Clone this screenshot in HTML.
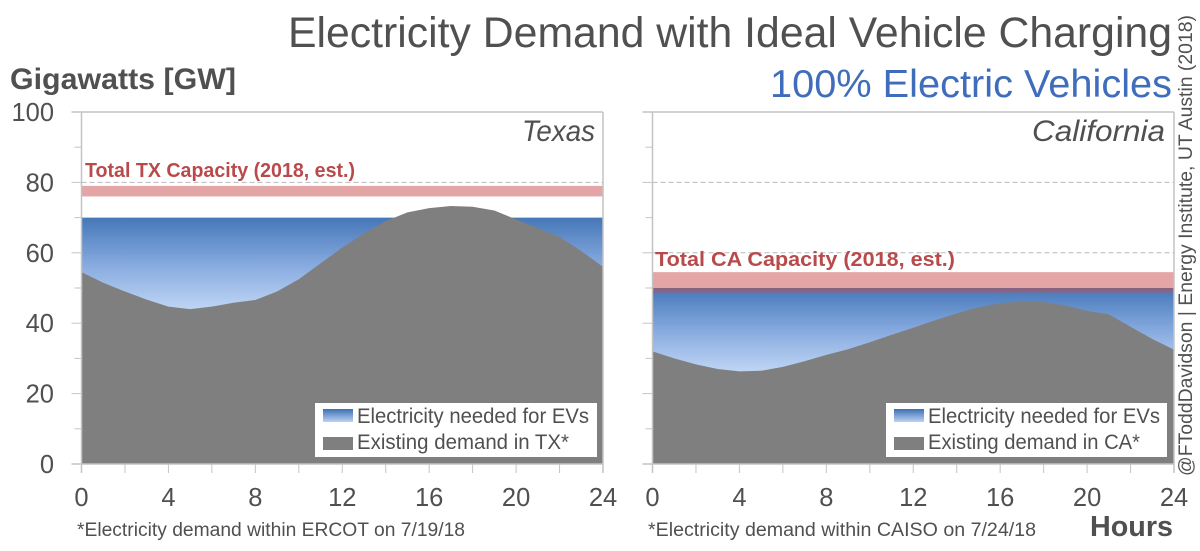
<!DOCTYPE html>
<html lang="en">
<head>
<meta charset="utf-8">
<title>Electricity Demand with Ideal Vehicle Charging</title>
<style>
html,body{margin:0;padding:0;background:#fff;width:1200px;height:551px;overflow:hidden}
svg{display:block;font-family:"Liberation Sans",sans-serif}
</style>
</head>
<body>
<svg id="chart" xmlns="http://www.w3.org/2000/svg" width="1200" height="551" viewBox="0 0 1200 551">
  <defs>
    <linearGradient id="evTX" gradientUnits="userSpaceOnUse" x1="0" x2="0" y1="218" y2="310">
      <stop offset="0" stop-color="#3c70b4"/><stop offset="0.5" stop-color="#7fa5dd"/><stop offset="1" stop-color="#bcd3f4"/>
    </linearGradient>
    <linearGradient id="evCA" gradientUnits="userSpaceOnUse" x1="0" x2="0" y1="288" y2="372">
      <stop offset="0" stop-color="#3c70b4"/><stop offset="0.5" stop-color="#7fa5dd"/><stop offset="1" stop-color="#bcd3f4"/>
    </linearGradient>
    <linearGradient id="swatchGrad" x1="0" x2="0" y1="0" y2="1">
      <stop offset="0" stop-color="#3c70b4"/><stop offset="1" stop-color="#bcd3f4"/>
    </linearGradient>
  </defs>
  <g id="marks"></g>

  <text x="288" y="47" font-size="43" fill="#505050" textLength="884" lengthAdjust="spacingAndGlyphs">Electricity Demand with Ideal Vehicle Charging</text>
  <text x="770" y="97" font-size="39" fill="#3f6dbb" textLength="402" lengthAdjust="spacingAndGlyphs">100% Electric Vehicles</text>
  <text x="10" y="89" font-size="30" font-weight="700" fill="#505050" textLength="226" lengthAdjust="spacingAndGlyphs">Gigawatts [GW]</text>
  <text x="1090" y="536" font-size="29" font-weight="700" fill="#505050" textLength="83" lengthAdjust="spacingAndGlyphs">Hours</text>
  <text transform="translate(1192 476) rotate(-90)" font-size="19" fill="#505050" textLength="461" lengthAdjust="spacingAndGlyphs">@FToddDavidson | Energy Institute, UT Austin (2018)</text>

  <text x="522" y="141" font-size="30" font-style="italic" fill="#505050" textLength="73" lengthAdjust="spacingAndGlyphs">Texas</text>
  <text x="1032" y="141" font-size="30" font-style="italic" fill="#505050" textLength="133" lengthAdjust="spacingAndGlyphs">California</text>
  <text x="85" y="177" font-size="20" font-weight="700" fill="#b94a4c" textLength="270" lengthAdjust="spacingAndGlyphs">Total TX Capacity (2018, est.)</text>
  <text x="655" y="266" font-size="20" font-weight="700" fill="#b94a4c" textLength="300" lengthAdjust="spacingAndGlyphs">Total CA Capacity (2018, est.)</text>
  <text x="77" y="536" font-size="19" fill="#505050" textLength="388" lengthAdjust="spacingAndGlyphs">*Electricity demand within ERCOT on 7/19/18</text>
  <text x="648" y="536" font-size="19" fill="#505050" textLength="388" lengthAdjust="spacingAndGlyphs">*Electricity demand within CAISO on 7/24/18</text>

  <g>
    <rect x="315" y="403" width="282" height="54" fill="#fff"/>
    <rect x="323" y="409" width="30" height="13" fill="url(#swatchGrad)"/>
    <text x="357" y="423" font-size="21" fill="#505050" textLength="232" lengthAdjust="spacingAndGlyphs">Electricity needed for EVs</text>
    <rect x="323" y="437" width="30" height="13" fill="#7f7f7f"/>
    <text x="357" y="449" font-size="21" fill="#505050" textLength="212" lengthAdjust="spacingAndGlyphs">Existing demand in TX*</text>
  </g>
  <g>
    <rect x="886" y="403" width="281" height="54" fill="#fff"/>
    <rect x="894" y="409" width="30" height="13" fill="url(#swatchGrad)"/>
    <text x="928" y="423" font-size="21" fill="#505050" textLength="232" lengthAdjust="spacingAndGlyphs">Electricity needed for EVs</text>
    <rect x="894" y="437" width="30" height="13" fill="#7f7f7f"/>
    <text x="928" y="449" font-size="21" fill="#505050" textLength="212" lengthAdjust="spacingAndGlyphs">Existing demand in CA*</text>
  </g>
</svg>
<script>
const hours = [0,1,2,3,4,5,6,7,8,9,10,11,12,13,14,15,16,17,18,19,20,21,22,23,24];
const texasDemand = [54.5,51.5,49,46.7,44.7,44,44.7,45.8,46.6,49,52.5,57,61.5,65.5,69,71.5,72.7,73.3,73.1,72,69.5,67,64.5,60.5,56];
const californiaDemand = [32,30,28.3,27,26.3,26.5,27.6,29.2,31,32.6,34.6,36.7,38.7,40.8,42.8,44.5,45.7,46.2,46,45,43.5,42.5,39,35.5,32.5];
const texasChargeLevel = 70;
const californiaChargeLevel = 50;
const texasCapacity = [76, 79];
const californiaCapacity = [48.7, 54.5];
const yTicks = [0,10,20,30,40,50,60,70,80,90,100];
const yLabels = [0,20,40,60,80,100];
const gridValues = [40,60,80];
const xTicks = [0,2,4,6,8,10,12,14,16,18,20,22,24];
const xLabels = [0,4,8,12,16,20,24];

const NS = 'http://www.w3.org/2000/svg';
const root = document.getElementById('marks');
const Y0 = 464, Y100 = 112;
const yScale = v => Y0 - (v / 100) * (Y0 - Y100);

function make(tag, props, parent) {
  const el = document.createElementNS(NS, tag);
  for (const k in props) el.setAttribute(k, props[k]);
  parent.appendChild(el);
  return el;
}

function drawPanel(key, left, right, demand, level, capacity, gradId, showYLabels) {
  const xScale = h => left + (h / 24) * (right - left);
  const g = make('g', {}, root);
  
  

  gridValues.forEach(v => {
    const grid = make('line', {x1: left, x2: right, y1: yScale(v), y2: yScale(v), stroke: '#b9b9b9', 'stroke-width': 1, 'stroke-dasharray': '5 3'}, g);
    
    
  });

  const evPts = [[xScale(0), yScale(level)], [xScale(24), yScale(level)], [xScale(24), Y0], [xScale(0), Y0]];
  const ev = make('polygon', {points: evPts.map(p => p.join(',')).join(' '), fill: 'url(#' + gradId + ')', 'fill-opacity': 0.95}, g);
  
  

  const pts = hours.map((h, i) => xScale(h) + ',' + yScale(demand[i]));
  const area = make('polygon', {points: xScale(0) + ',' + Y0 + ' ' + pts.join(' ') + ' ' + xScale(24) + ',' + Y0, fill: '#7f7f7f'}, g);
  
  

  const band = make('rect', {x: left, width: right - left, y: yScale(capacity[1]), height: yScale(capacity[0]) - yScale(capacity[1]), fill: '#c84b4b', 'fill-opacity': 0.5}, g);
  
  

  const topBorder = make('line', {x1: left - 10, x2: right, y1: Y100, y2: Y100, stroke: '#c4c4c4', 'stroke-width': 1.5}, g);
  
  
  const rightBorder = make('line', {x1: right, x2: right, y1: Y100, y2: Y0 + 9, stroke: '#c4c4c4', 'stroke-width': 1.5}, g);
  
  
  const yAxis = make('line', {x1: left, x2: left, y1: Y100, y2: Y0 + 9, stroke: '#c4c4c4', 'stroke-width': 1.5}, g);
  
  
  const xAxis = make('line', {x1: left - 10, x2: right, y1: Y0, y2: Y0, stroke: '#c4c4c4', 'stroke-width': 1.5}, g);
  
  

  yTicks.forEach(v => {
    const major = v % 20 === 0;
    const tick = make('line', {x1: left - (major ? 10 : 7), x2: left, y1: yScale(v), y2: yScale(v), stroke: '#c4c4c4', 'stroke-width': 1}, g);
    
    
  });
  xTicks.forEach(h => {
    const tick = make('line', {x1: xScale(h), x2: xScale(h), y1: Y0, y2: Y0 + 9, stroke: '#c4c4c4', 'stroke-width': 1}, g);
    
    
  });
  xLabels.forEach(h => {
    const t = make('text', {x: xScale(h), y: 506, 'text-anchor': 'middle', 'font-size': 25.5, fill: '#505050'}, g);
    t.textContent = h;
    
    
  });
  if (showYLabels) {
    yLabels.forEach(v => {
      const t = make('text', {x: 54, y: yScale(v) + 9, 'text-anchor': 'end', 'font-size': 25.5, fill: '#505050'}, g);
      t.textContent = v;
      
      
    });
  }
}

drawPanel('texas', 81.5, 603, texasDemand, texasChargeLevel, texasCapacity, 'evTX', true);
drawPanel('california', 652.5, 1174, californiaDemand, californiaChargeLevel, californiaCapacity, 'evCA', false);
</script>
</body>
</html>
